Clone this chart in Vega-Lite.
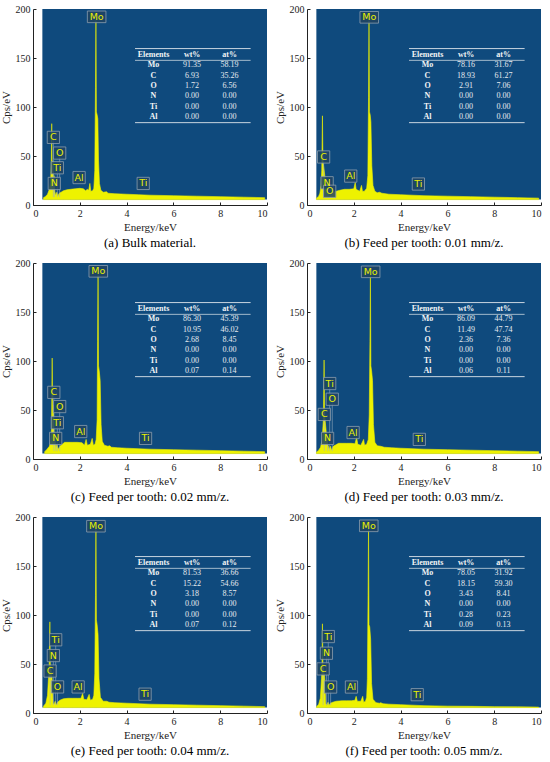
{
"$schema": "https://vega.github.io/schema/vega-lite/v6.json",
"padding": {"left": 0, "top": 4, "right": 0, "bottom": 0},
"background": "white",
"data": {"values": [
{"p":"a","k":"t","r":0,"el":"Elements","wt":"wt%","at":"at%"},
{"p":"a","k":"t","r":1,"el":"Mo","wt":"91.35","at":"58.19"},
{"p":"a","k":"t","r":2,"el":"C","wt":"6.93","at":"35.26"},
{"p":"a","k":"t","r":3,"el":"O","wt":"1.72","at":"6.56"},
{"p":"a","k":"t","r":4,"el":"N","wt":"0.00","at":"0.00"},
{"p":"a","k":"t","r":5,"el":"Ti","wt":"0.00","at":"0.00"},
{"p":"a","k":"t","r":6,"el":"Al","wt":"0.00","at":"0.00"},
{"p":"b","k":"t","r":0,"el":"Elements","wt":"wt%","at":"at%"},
{"p":"b","k":"t","r":1,"el":"Mo","wt":"78.16","at":"31.67"},
{"p":"b","k":"t","r":2,"el":"C","wt":"18.93","at":"61.27"},
{"p":"b","k":"t","r":3,"el":"O","wt":"2.91","at":"7.06"},
{"p":"b","k":"t","r":4,"el":"N","wt":"0.00","at":"0.00"},
{"p":"b","k":"t","r":5,"el":"Ti","wt":"0.00","at":"0.00"},
{"p":"b","k":"t","r":6,"el":"Al","wt":"0.00","at":"0.00"},
{"p":"c","k":"t","r":0,"el":"Elements","wt":"wt%","at":"at%"},
{"p":"c","k":"t","r":1,"el":"Mo","wt":"86.30","at":"45.39"},
{"p":"c","k":"t","r":2,"el":"C","wt":"10.95","at":"46.02"},
{"p":"c","k":"t","r":3,"el":"O","wt":"2.68","at":"8.45"},
{"p":"c","k":"t","r":4,"el":"N","wt":"0.00","at":"0.00"},
{"p":"c","k":"t","r":5,"el":"Ti","wt":"0.00","at":"0.00"},
{"p":"c","k":"t","r":6,"el":"Al","wt":"0.07","at":"0.14"},
{"p":"d","k":"t","r":0,"el":"Elements","wt":"wt%","at":"at%"},
{"p":"d","k":"t","r":1,"el":"Mo","wt":"86.09","at":"44.79"},
{"p":"d","k":"t","r":2,"el":"C","wt":"11.49","at":"47.74"},
{"p":"d","k":"t","r":3,"el":"O","wt":"2.36","at":"7.36"},
{"p":"d","k":"t","r":4,"el":"N","wt":"0.00","at":"0.00"},
{"p":"d","k":"t","r":5,"el":"Ti","wt":"0.00","at":"0.00"},
{"p":"d","k":"t","r":6,"el":"Al","wt":"0.06","at":"0.11"},
{"p":"e","k":"t","r":0,"el":"Elements","wt":"wt%","at":"at%"},
{"p":"e","k":"t","r":1,"el":"Mo","wt":"81.53","at":"36.66"},
{"p":"e","k":"t","r":2,"el":"C","wt":"15.22","at":"54.66"},
{"p":"e","k":"t","r":3,"el":"O","wt":"3.18","at":"8.57"},
{"p":"e","k":"t","r":4,"el":"N","wt":"0.00","at":"0.00"},
{"p":"e","k":"t","r":5,"el":"Ti","wt":"0.00","at":"0.00"},
{"p":"e","k":"t","r":6,"el":"Al","wt":"0.07","at":"0.12"},
{"p":"f","k":"t","r":0,"el":"Elements","wt":"wt%","at":"at%"},
{"p":"f","k":"t","r":1,"el":"Mo","wt":"78.05","at":"31.92"},
{"p":"f","k":"t","r":2,"el":"C","wt":"18.15","at":"59.30"},
{"p":"f","k":"t","r":3,"el":"O","wt":"3.43","at":"8.41"},
{"p":"f","k":"t","r":4,"el":"N","wt":"0.00","at":"0.00"},
{"p":"f","k":"t","r":5,"el":"Ti","wt":"0.28","at":"0.23"},
{"p":"f","k":"t","r":6,"el":"Al","wt":"0.09","at":"0.13"},

{"p":"a","k":"l","el":"Mo","x":2.72,"y":192},
{"p":"a","k":"l","el":"C","x":0.87,"y":69},
{"p":"a","k":"l","el":"O","x":1.14,"y":53},
{"p":"a","k":"l","el":"Ti","x":1.04,"y":38},
{"p":"a","k":"l","el":"N","x":0.91,"y":22},
{"p":"a","k":"l","el":"Al","x":1.97,"y":28},
{"p":"a","k":"l","el":"Ti","x":4.71,"y":22},
{"p":"b","k":"l","el":"Mo","x":2.66,"y":191.5},
{"p":"b","k":"l","el":"C","x":0.71,"y":49},
{"p":"b","k":"l","el":"N","x":0.86,"y":22.7},
{"p":"b","k":"l","el":"O","x":0.97,"y":14},
{"p":"b","k":"l","el":"Al","x":1.87,"y":29.5},
{"p":"b","k":"l","el":"Ti","x":4.76,"y":21.4},
{"p":"c","k":"l","el":"Mo","x":2.79,"y":191.5},
{"p":"c","k":"l","el":"C","x":0.89,"y":68},
{"p":"c","k":"l","el":"O","x":1.14,"y":53.5},
{"p":"c","k":"l","el":"Ti","x":1.04,"y":37},
{"p":"c","k":"l","el":"N","x":0.97,"y":21},
{"p":"c","k":"l","el":"Al","x":2.04,"y":28},
{"p":"c","k":"l","el":"Ti","x":4.81,"y":21},
{"p":"d","k":"l","el":"Mo","x":2.72,"y":191},
{"p":"d","k":"l","el":"Ti","x":0.97,"y":77},
{"p":"d","k":"l","el":"O","x":1.08,"y":61},
{"p":"d","k":"l","el":"C","x":0.74,"y":45.5},
{"p":"d","k":"l","el":"N","x":0.88,"y":21},
{"p":"d","k":"l","el":"Al","x":1.97,"y":27},
{"p":"d","k":"l","el":"Ti","x":4.8,"y":20},
{"p":"e","k":"l","el":"Mo","x":2.69,"y":190.6},
{"p":"e","k":"l","el":"Ti","x":0.97,"y":74.7},
{"p":"e","k":"l","el":"N","x":0.87,"y":58.6},
{"p":"e","k":"l","el":"C","x":0.73,"y":42.8},
{"p":"e","k":"l","el":"O","x":1.05,"y":26.6},
{"p":"e","k":"l","el":"Al","x":1.93,"y":26.6},
{"p":"e","k":"l","el":"Ti","x":4.79,"y":19.2},
{"p":"f","k":"l","el":"Mo","x":2.64,"y":191},
{"p":"f","k":"l","el":"Ti","x":0.91,"y":78},
{"p":"f","k":"l","el":"N","x":0.83,"y":61},
{"p":"f","k":"l","el":"C","x":0.69,"y":45},
{"p":"f","k":"l","el":"O","x":1.01,"y":26.5},
{"p":"f","k":"l","el":"Al","x":1.9,"y":26.5},
{"p":"f","k":"l","el":"Ti","x":4.71,"y":18.7},

{"p":"a","k":"s","e":0.45,"c":7.5},{"p":"a","k":"s","e":0.55,"c":9},{"p":"a","k":"s","e":0.62,"c":11},{"p":"a","k":"s","e":0.7,"c":16},{"p":"a","k":"s","e":0.75,"c":24},{"p":"a","k":"s","e":0.78,"c":40},{"p":"a","k":"s","e":0.8,"c":83},{"p":"a","k":"s","e":0.82,"c":35},{"p":"a","k":"s","e":0.85,"c":45},{"p":"a","k":"s","e":0.87,"c":22},{"p":"a","k":"s","e":0.9,"c":30},{"p":"a","k":"s","e":0.93,"c":14},{"p":"a","k":"s","e":0.97,"c":10},{"p":"a","k":"s","e":1.02,"c":13},{"p":"a","k":"s","e":1.06,"c":9},{"p":"a","k":"s","e":1.12,"c":12},{"p":"a","k":"s","e":1.2,"c":13},{"p":"a","k":"s","e":1.3,"c":14.5},{"p":"a","k":"s","e":1.45,"c":15.5},{"p":"a","k":"s","e":1.6,"c":16},{"p":"a","k":"s","e":1.8,"c":16.5},{"p":"a","k":"s","e":2.0,"c":17},{"p":"a","k":"s","e":2.15,"c":16.5},{"p":"a","k":"s","e":2.25,"c":14.5},{"p":"a","k":"s","e":2.32,"c":16},{"p":"a","k":"s","e":2.38,"c":15},{"p":"a","k":"s","e":2.43,"c":22},{"p":"a","k":"s","e":2.47,"c":14},{"p":"a","k":"s","e":2.55,"c":14.5},{"p":"a","k":"s","e":2.6,"c":17},{"p":"a","k":"s","e":2.64,"c":35},{"p":"a","k":"s","e":2.67,"c":120},{"p":"a","k":"s","e":2.69,"c":188},{"p":"a","k":"s","e":2.71,"c":95},{"p":"a","k":"s","e":2.74,"c":92},{"p":"a","k":"s","e":2.77,"c":88},{"p":"a","k":"s","e":2.8,"c":45},{"p":"a","k":"s","e":2.84,"c":22},{"p":"a","k":"s","e":2.9,"c":15},{"p":"a","k":"s","e":3.0,"c":13},{"p":"a","k":"s","e":3.15,"c":13.5},{"p":"a","k":"s","e":3.2,"c":12},{"p":"a","k":"s","e":3.5,"c":11.5},{"p":"a","k":"s","e":4,"c":11},{"p":"a","k":"s","e":4.5,"c":10.5},{"p":"a","k":"s","e":5,"c":10},{"p":"a","k":"s","e":6,"c":9.5},{"p":"a","k":"s","e":7,"c":9},{"p":"a","k":"s","e":8,"c":8.5},{"p":"a","k":"s","e":9,"c":8},{"p":"a","k":"s","e":9.9,"c":7.5},

{"p":"b","k":"s","e":0.4,"c":7},{"p":"b","k":"s","e":0.5,"c":9},{"p":"b","k":"s","e":0.55,"c":12},{"p":"b","k":"s","e":0.6,"c":20},{"p":"b","k":"s","e":0.63,"c":35},{"p":"b","k":"s","e":0.66,"c":91},{"p":"b","k":"s","e":0.68,"c":45},{"p":"b","k":"s","e":0.72,"c":38},{"p":"b","k":"s","e":0.76,"c":30},{"p":"b","k":"s","e":0.8,"c":22},{"p":"b","k":"s","e":0.85,"c":16},{"p":"b","k":"s","e":0.9,"c":12},{"p":"b","k":"s","e":0.95,"c":9},{"p":"b","k":"s","e":1.0,"c":12},{"p":"b","k":"s","e":1.05,"c":10},{"p":"b","k":"s","e":1.1,"c":13},{"p":"b","k":"s","e":1.25,"c":14},{"p":"b","k":"s","e":1.4,"c":15},{"p":"b","k":"s","e":1.6,"c":16},{"p":"b","k":"s","e":1.8,"c":16},{"p":"b","k":"s","e":2.0,"c":16.5},{"p":"b","k":"s","e":2.06,"c":23},{"p":"b","k":"s","e":2.1,"c":16},{"p":"b","k":"s","e":2.25,"c":14},{"p":"b","k":"s","e":2.33,"c":20},{"p":"b","k":"s","e":2.37,"c":14},{"p":"b","k":"s","e":2.45,"c":14},{"p":"b","k":"s","e":2.55,"c":17},{"p":"b","k":"s","e":2.6,"c":30},{"p":"b","k":"s","e":2.63,"c":110},{"p":"b","k":"s","e":2.65,"c":188},{"p":"b","k":"s","e":2.67,"c":95},{"p":"b","k":"s","e":2.7,"c":92},{"p":"b","k":"s","e":2.73,"c":85},{"p":"b","k":"s","e":2.77,"c":40},{"p":"b","k":"s","e":2.82,"c":20},{"p":"b","k":"s","e":2.9,"c":14},{"p":"b","k":"s","e":3.0,"c":12.5},{"p":"b","k":"s","e":3.1,"c":13},{"p":"b","k":"s","e":3.2,"c":12},{"p":"b","k":"s","e":3.5,"c":11},{"p":"b","k":"s","e":4,"c":10.5},{"p":"b","k":"s","e":5,"c":9.5},{"p":"b","k":"s","e":6,"c":9},{"p":"b","k":"s","e":7,"c":8.5},{"p":"b","k":"s","e":8,"c":8},{"p":"b","k":"s","e":9,"c":7.5},{"p":"b","k":"s","e":9.9,"c":7},

{"p":"c","k":"s","e":0.5,"c":7.5},{"p":"c","k":"s","e":0.6,"c":10},{"p":"c","k":"s","e":0.7,"c":13},{"p":"c","k":"s","e":0.75,"c":18},{"p":"c","k":"s","e":0.79,"c":30},{"p":"c","k":"s","e":0.82,"c":103},{"p":"c","k":"s","e":0.84,"c":40},{"p":"c","k":"s","e":0.87,"c":55},{"p":"c","k":"s","e":0.9,"c":28},{"p":"c","k":"s","e":0.94,"c":20},{"p":"c","k":"s","e":0.98,"c":12},{"p":"c","k":"s","e":1.02,"c":15},{"p":"c","k":"s","e":1.08,"c":10},{"p":"c","k":"s","e":1.15,"c":13},{"p":"c","k":"s","e":1.25,"c":15},{"p":"c","k":"s","e":1.35,"c":17},{"p":"c","k":"s","e":1.5,"c":17},{"p":"c","k":"s","e":1.7,"c":17},{"p":"c","k":"s","e":1.9,"c":17},{"p":"c","k":"s","e":2.1,"c":16.5},{"p":"c","k":"s","e":2.2,"c":14},{"p":"c","k":"s","e":2.27,"c":20},{"p":"c","k":"s","e":2.32,"c":14},{"p":"c","k":"s","e":2.45,"c":15},{"p":"c","k":"s","e":2.53,"c":21},{"p":"c","k":"s","e":2.58,"c":14},{"p":"c","k":"s","e":2.65,"c":15},{"p":"c","k":"s","e":2.7,"c":20},{"p":"c","k":"s","e":2.74,"c":40},{"p":"c","k":"s","e":2.76,"c":120},{"p":"c","k":"s","e":2.78,"c":188},{"p":"c","k":"s","e":2.8,"c":95},{"p":"c","k":"s","e":2.83,"c":90},{"p":"c","k":"s","e":2.87,"c":80},{"p":"c","k":"s","e":2.91,"c":35},{"p":"c","k":"s","e":2.96,"c":18},{"p":"c","k":"s","e":3.05,"c":14},{"p":"c","k":"s","e":3.2,"c":13},{"p":"c","k":"s","e":3.28,"c":13.5},{"p":"c","k":"s","e":3.35,"c":12},{"p":"c","k":"s","e":3.6,"c":11.5},{"p":"c","k":"s","e":4,"c":11},{"p":"c","k":"s","e":5,"c":10},{"p":"c","k":"s","e":6,"c":9.5},{"p":"c","k":"s","e":7,"c":9},{"p":"c","k":"s","e":8,"c":8.5},{"p":"c","k":"s","e":9,"c":8},{"p":"c","k":"s","e":9.9,"c":7.5},

{"p":"d","k":"s","e":0.4,"c":7},{"p":"d","k":"s","e":0.5,"c":9},{"p":"d","k":"s","e":0.58,"c":12},{"p":"d","k":"s","e":0.65,"c":20},{"p":"d","k":"s","e":0.7,"c":40},{"p":"d","k":"s","e":0.73,"c":101},{"p":"d","k":"s","e":0.75,"c":50},{"p":"d","k":"s","e":0.78,"c":38},{"p":"d","k":"s","e":0.82,"c":28},{"p":"d","k":"s","e":0.86,"c":20},{"p":"d","k":"s","e":0.9,"c":14},{"p":"d","k":"s","e":0.95,"c":10},{"p":"d","k":"s","e":1.0,"c":13},{"p":"d","k":"s","e":1.05,"c":9},{"p":"d","k":"s","e":1.12,"c":13},{"p":"d","k":"s","e":1.2,"c":14},{"p":"d","k":"s","e":1.35,"c":16},{"p":"d","k":"s","e":1.5,"c":16},{"p":"d","k":"s","e":1.7,"c":16},{"p":"d","k":"s","e":1.9,"c":16},{"p":"d","k":"s","e":2.05,"c":15.5},{"p":"d","k":"s","e":2.12,"c":22},{"p":"d","k":"s","e":2.17,"c":15},{"p":"d","k":"s","e":2.3,"c":14},{"p":"d","k":"s","e":2.42,"c":20},{"p":"d","k":"s","e":2.46,"c":14},{"p":"d","k":"s","e":2.55,"c":15},{"p":"d","k":"s","e":2.62,"c":20},{"p":"d","k":"s","e":2.66,"c":45},{"p":"d","k":"s","e":2.69,"c":120},{"p":"d","k":"s","e":2.71,"c":188},{"p":"d","k":"s","e":2.73,"c":95},{"p":"d","k":"s","e":2.76,"c":90},{"p":"d","k":"s","e":2.8,"c":80},{"p":"d","k":"s","e":2.84,"c":35},{"p":"d","k":"s","e":2.9,"c":17},{"p":"d","k":"s","e":3.0,"c":13.5},{"p":"d","k":"s","e":3.15,"c":13},{"p":"d","k":"s","e":3.3,"c":12},{"p":"d","k":"s","e":3.6,"c":11.5},{"p":"d","k":"s","e":4,"c":11},{"p":"d","k":"s","e":5,"c":10},{"p":"d","k":"s","e":6,"c":9.5},{"p":"d","k":"s","e":7,"c":9},{"p":"d","k":"s","e":8,"c":8.5},{"p":"d","k":"s","e":9,"c":8},{"p":"d","k":"s","e":9.9,"c":7.5},

{"p":"e","k":"s","e":0.45,"c":7},{"p":"e","k":"s","e":0.55,"c":10},{"p":"e","k":"s","e":0.62,"c":18},{"p":"e","k":"s","e":0.66,"c":35},{"p":"e","k":"s","e":0.69,"c":45},{"p":"e","k":"s","e":0.72,"c":93},{"p":"e","k":"s","e":0.74,"c":50},{"p":"e","k":"s","e":0.77,"c":45},{"p":"e","k":"s","e":0.8,"c":40},{"p":"e","k":"s","e":0.83,"c":30},{"p":"e","k":"s","e":0.86,"c":10},{"p":"e","k":"s","e":0.9,"c":9},{"p":"e","k":"s","e":0.95,"c":12},{"p":"e","k":"s","e":1.0,"c":8},{"p":"e","k":"s","e":1.05,"c":11},{"p":"e","k":"s","e":1.15,"c":13},{"p":"e","k":"s","e":1.3,"c":14.5},{"p":"e","k":"s","e":1.5,"c":15},{"p":"e","k":"s","e":1.7,"c":15},{"p":"e","k":"s","e":1.9,"c":15},{"p":"e","k":"s","e":2.05,"c":15},{"p":"e","k":"s","e":2.12,"c":20},{"p":"e","k":"s","e":2.17,"c":14},{"p":"e","k":"s","e":2.3,"c":13.5},{"p":"e","k":"s","e":2.4,"c":19},{"p":"e","k":"s","e":2.45,"c":13},{"p":"e","k":"s","e":2.55,"c":14},{"p":"e","k":"s","e":2.6,"c":18},{"p":"e","k":"s","e":2.64,"c":40},{"p":"e","k":"s","e":2.67,"c":120},{"p":"e","k":"s","e":2.69,"c":188},{"p":"e","k":"s","e":2.71,"c":95},{"p":"e","k":"s","e":2.74,"c":90},{"p":"e","k":"s","e":2.78,"c":80},{"p":"e","k":"s","e":2.82,"c":35},{"p":"e","k":"s","e":2.88,"c":16},{"p":"e","k":"s","e":3.0,"c":12},{"p":"e","k":"s","e":3.15,"c":12},{"p":"e","k":"s","e":3.25,"c":11},{"p":"e","k":"s","e":3.5,"c":10.5},{"p":"e","k":"s","e":4,"c":10},{"p":"e","k":"s","e":5,"c":9},{"p":"e","k":"s","e":6,"c":8.5},{"p":"e","k":"s","e":7,"c":8},{"p":"e","k":"s","e":8,"c":7.5},{"p":"e","k":"s","e":9,"c":7},{"p":"e","k":"s","e":9.9,"c":6.5},

{"p":"f","k":"s","e":0.4,"c":6},{"p":"f","k":"s","e":0.5,"c":9},{"p":"f","k":"s","e":0.57,"c":15},{"p":"f","k":"s","e":0.62,"c":35},{"p":"f","k":"s","e":0.64,"c":45},{"p":"f","k":"s","e":0.66,"c":91},{"p":"f","k":"s","e":0.68,"c":50},{"p":"f","k":"s","e":0.71,"c":45},{"p":"f","k":"s","e":0.74,"c":40},{"p":"f","k":"s","e":0.77,"c":30},{"p":"f","k":"s","e":0.8,"c":10},{"p":"f","k":"s","e":0.85,"c":8},{"p":"f","k":"s","e":0.9,"c":11},{"p":"f","k":"s","e":0.95,"c":8},{"p":"f","k":"s","e":1.0,"c":10},{"p":"f","k":"s","e":1.1,"c":11},{"p":"f","k":"s","e":1.25,"c":12},{"p":"f","k":"s","e":1.5,"c":12.5},{"p":"f","k":"s","e":1.7,"c":12.5},{"p":"f","k":"s","e":1.9,"c":12.5},{"p":"f","k":"s","e":2.05,"c":13},{"p":"f","k":"s","e":2.1,"c":17},{"p":"f","k":"s","e":2.15,"c":12},{"p":"f","k":"s","e":2.3,"c":12},{"p":"f","k":"s","e":2.38,"c":17},{"p":"f","k":"s","e":2.42,"c":11},{"p":"f","k":"s","e":2.5,"c":12},{"p":"f","k":"s","e":2.55,"c":16},{"p":"f","k":"s","e":2.58,"c":35},{"p":"f","k":"s","e":2.61,"c":120},{"p":"f","k":"s","e":2.63,"c":188},{"p":"f","k":"s","e":2.65,"c":90},{"p":"f","k":"s","e":2.68,"c":88},{"p":"f","k":"s","e":2.72,"c":75},{"p":"f","k":"s","e":2.76,"c":30},{"p":"f","k":"s","e":2.82,"c":14},{"p":"f","k":"s","e":2.95,"c":10.5},{"p":"f","k":"s","e":3.1,"c":10},{"p":"f","k":"s","e":3.15,"c":10.5},{"p":"f","k":"s","e":3.25,"c":9.5},{"p":"f","k":"s","e":3.5,"c":9},{"p":"f","k":"s","e":4,"c":8.5},{"p":"f","k":"s","e":5,"c":7.5},{"p":"f","k":"s","e":6,"c":7},{"p":"f","k":"s","e":7,"c":6.8},{"p":"f","k":"s","e":8,"c":6.5},{"p":"f","k":"s","e":9,"c":6.3},{"p":"f","k":"s","e":9.9,"c":6}
]},
"facet": {"field": "p", "type": "nominal",
  "header": {"title": null, "labelOrient": "bottom", "labelFont": "Liberation Serif", "labelFontSize": 13, "labelColor": "black", "labelPadding": 5,
    "labelExpr": "datum.value=='a'?'(a) Bulk material.':datum.value=='b'?'(b) Feed per tooth: 0.01 mm/z.':datum.value=='c'?'(c) Feed per tooth: 0.02 mm/z.':datum.value=='d'?'(d) Feed per tooth: 0.03 mm/z.':datum.value=='e'?'(e) Feed per tooth: 0.04 mm/z.':'(f) Feed per tooth: 0.05 mm/z.'"}},
"columns": 2,
"spacing": {"row": 8, "column": 6},
"resolve": {"axis": {"x": "independent", "y": "independent"}},
"spec": {
  "width": 234,
  "height": 196,
  "resolve": {"scale": {"y": "independent"}},
  "layer": [
    {
      "layer": [
        {
          "transform": [{"filter": "datum.k=='t' && datum.r==0"}],
          "mark": {"type": "rect", "fill": "#0f4a7d"},
          "encoding": {
            "x": {"datum": 0.4, "type": "quantitative", "scale": {"domain": [0, 10], "nice": false},
                  "axis": {"title": "Energy/keV", "values": [0,1,2,3,4,5,6,7,8,9,10], "labelExpr": "datum.value % 2 == 0 ? datum.label : ''"}},
            "x2": {"datum": 10},
            "y": {"datum": 5.5, "type": "quantitative", "scale": {"domain": [0, 200], "nice": false},
                  "axis": {"title": "Cps/eV", "values": [0, 50, 100, 150, 200]}},
            "y2": {"datum": 200}
          }
        },
        {
          "transform": [{"filter": "datum.k=='s'"}],
          "mark": {"type": "area", "fill": "#eef200", "stroke": "#eef200", "strokeWidth": 0.6, "interpolate": "linear"},
          "encoding": {
            "x": {"field": "e", "type": "quantitative"},
            "y": {"field": "c", "type": "quantitative"},
            "y2": {"datum": 5.5}
          }
        },
        {
          "transform": [{"filter": "datum.k=='l' && datum.x < 1.5"}],
          "mark": {"type": "rule", "stroke": "#9fb2c4", "strokeWidth": 0.8, "opacity": 0.7},
          "encoding": {
            "x": {"field": "x", "type": "quantitative"},
            "y": {"field": "y", "type": "quantitative"},
            "y2": {"datum": 8}
          }
        },
        {
          "transform": [{"filter": "datum.k=='l' && datum.el != 'Mo'"}],
          "mark": {"type": "point", "shape": "M-1,-1H1V1H-1Z", "size": 150, "filled": true, "fill": "#1f4464", "fillOpacity": 0.85, "stroke": "#8d9eae", "strokeWidth": 0.8},
          "encoding": {
            "x": {"field": "x", "type": "quantitative"},
            "y": {"field": "y", "type": "quantitative"}
          }
        },
        {
          "transform": [{"filter": "datum.k=='l' && datum.el == 'Mo'"}],
          "mark": {"type": "point", "shape": "M-1.6,-1H1.6V1H-1.6Z", "size": 135, "filled": true, "fill": "#1f4464", "fillOpacity": 0.9, "stroke": "#8d9eae", "strokeWidth": 0.8},
          "encoding": {
            "x": {"field": "x", "type": "quantitative"},
            "y": {"field": "y", "type": "quantitative"}
          }
        },
        {
          "transform": [{"filter": "datum.k=='l'"}],
          "mark": {"type": "text", "font": "DejaVu Sans", "fontSize": 9.5, "color": "#e8f000", "baseline": "middle", "align": "center"},
          "encoding": {
            "x": {"field": "x", "type": "quantitative"},
            "y": {"field": "y", "type": "quantitative"},
            "text": {"field": "el"}
          }
        }
      ]
    },
    {
      "transform": [{"filter": "datum.k=='t'"}],
      "layer": [
        {
          "mark": {"type": "text", "font": "Liberation Serif", "fontSize": 8, "fontWeight": "bold", "color": "#f2f4f6", "baseline": "middle"},
          "encoding": {
            "x": {"datum": 5.15, "type": "quantitative"},
            "y": {"field": "r", "type": "quantitative", "scale": {"domain": [-4.45, 14.52], "reverse": true, "nice": false, "zero": false}, "axis": null},
            "text": {"field": "el"}
          }
        },
        {
          "transform": [{"filter": "datum.r > 0"}],
          "mark": {"type": "text", "font": "Liberation Serif", "fontSize": 8, "color": "#e6ebf0", "baseline": "middle"},
          "encoding": {
            "x": {"datum": 6.8, "type": "quantitative"},
            "y": {"field": "r", "type": "quantitative", "axis": null},
            "text": {"field": "wt"}
          }
        },
        {
          "transform": [{"filter": "datum.r > 0"}],
          "mark": {"type": "text", "font": "Liberation Serif", "fontSize": 8, "color": "#e6ebf0", "baseline": "middle"},
          "encoding": {
            "x": {"datum": 8.4, "type": "quantitative"},
            "y": {"field": "r", "type": "quantitative", "axis": null},
            "text": {"field": "at"}
          }
        },
        {
          "transform": [{"filter": "datum.r == 0"}],
          "mark": {"type": "text", "font": "Liberation Serif", "fontSize": 8, "fontWeight": "bold", "color": "#f2f4f6", "baseline": "middle"},
          "encoding": {
            "x": {"datum": 6.8, "type": "quantitative"},
            "y": {"field": "r", "type": "quantitative", "axis": null},
            "text": {"field": "wt"}
          }
        },
        {
          "transform": [{"filter": "datum.r == 0"}],
          "mark": {"type": "text", "font": "Liberation Serif", "fontSize": 8, "fontWeight": "bold", "color": "#f2f4f6", "baseline": "middle"},
          "encoding": {
            "x": {"datum": 8.4, "type": "quantitative"},
            "y": {"field": "r", "type": "quantitative", "axis": null},
            "text": {"field": "at"}
          }
        },
        {
          "transform": [{"filter": "datum.r == 0"}],
          "mark": {"type": "rule", "stroke": "#c9d5df", "strokeWidth": 1},
          "encoding": {
            "x": {"datum": 4.36, "type": "quantitative"},
            "x2": {"datum": 9.3},
            "y": {"datum": -0.62, "type": "quantitative", "axis": null}
          }
        },
        {
          "transform": [{"filter": "datum.r == 0"}],
          "mark": {"type": "rule", "stroke": "#c9d5df", "strokeWidth": 0.8},
          "encoding": {
            "x": {"datum": 4.36, "type": "quantitative"},
            "x2": {"datum": 9.3},
            "y": {"datum": 0.52, "type": "quantitative", "axis": null}
          }
        },
        {
          "transform": [{"filter": "datum.r == 0"}],
          "mark": {"type": "rule", "stroke": "#c9d5df", "strokeWidth": 1},
          "encoding": {
            "x": {"datum": 4.36, "type": "quantitative"},
            "x2": {"datum": 9.3},
            "y": {"datum": 6.55, "type": "quantitative", "axis": null}
          }
        }
      ]
    }
  ]
},
"config": {
  "view": {"stroke": null},
  "axis": {"grid": false, "domainColor": "#222", "domainWidth": 1, "tickColor": "#222", "tickSize": -3, "labelPadding": 6,
           "labelFont": "Liberation Serif", "labelFontSize": 10, "labelColor": "#222",
           "titleFont": "Liberation Serif", "titleFontSize": 11, "titleFontWeight": "normal", "titleColor": "#222"},
  "axisX": {"titlePadding": 3},
  "axisY": {"titlePadding": 4}
}
}
